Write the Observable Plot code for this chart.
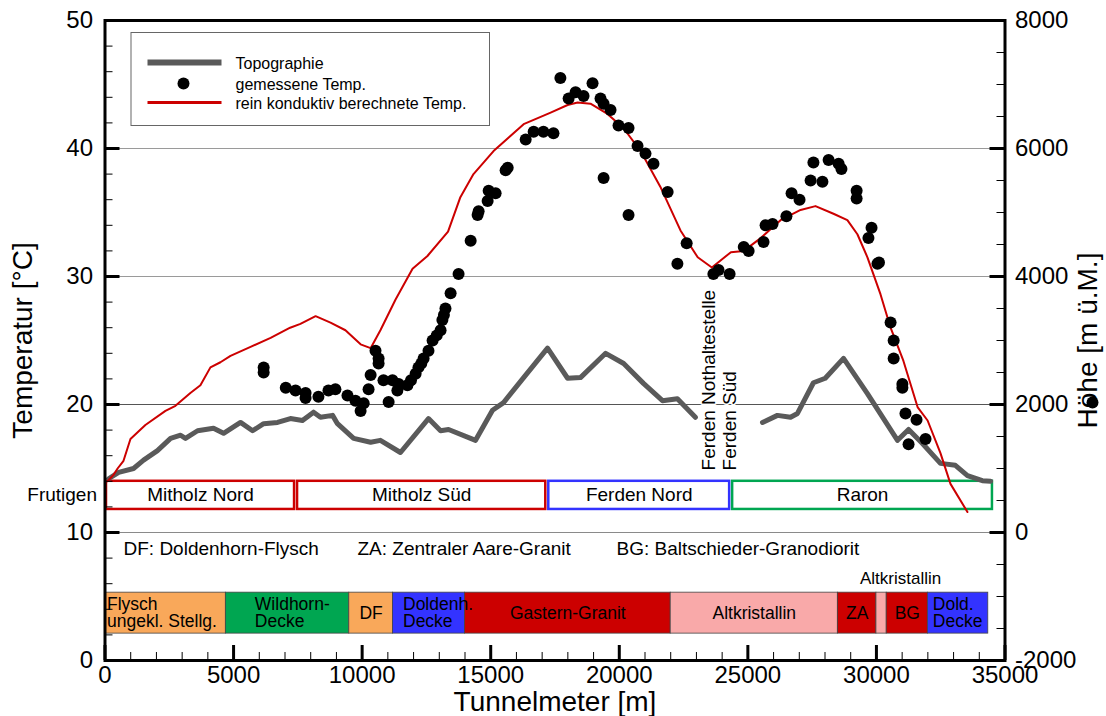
<!DOCTYPE html>
<html><head><meta charset="utf-8">
<script src="https://cdn.jsdelivr.net/npm/d3@7"></script>
<script src="https://cdn.jsdelivr.net/npm/@observablehq/plot@0.6"></script>
<style>body{margin:0;background:#fff;}</style>
</head><body><div id="chart"></div>
<script>
// ---------- data ----------
// rein konduktiv berechnete Temperatur (Tunnelmeter, °C)
const calcM = [100, 330, 490, 720, 990, 1570, 2350, 2740, 3320, 3710, 4100, 4490, 4880, 5660, 6440, 7200, 7600, 8190, 8770, 9350, 9940, 10330, 10710, 11300, 11960, 12540, 13340, 13820, 14330, 15110, 16280, 17330, 17990, 18380, 18880, 19540, 20160, 20830, 21600, 22380, 23050, 23600, 24340, 24840, 25500, 26270, 27050, 27630, 28330, 28870, 29260, 29650, 30160, 30550, 31050, 31600, 31990, 32490, 32880, 33540];
const calcT = [14.0, 14.5, 15.0, 15.6, 17.3, 18.4, 19.5, 19.9, 20.9, 21.5, 22.9, 23.3, 23.8, 24.5, 25.2, 26.0, 26.3, 26.9, 26.4, 25.8, 24.7, 24.4, 25.8, 28.2, 30.6, 31.6, 33.5, 36.2, 38.0, 39.8, 41.9, 42.8, 43.4, 43.6, 43.5, 42.7, 41.6, 39.8, 37.0, 33.6, 31.5, 30.7, 31.9, 32.0, 33.0, 34.4, 35.2, 35.5, 34.9, 34.4, 33.3, 31.5, 28.6, 26.0, 23.4, 19.8, 18.75, 16.2, 13.8, 11.6];

// Topographie (Tunnelmeter, m ü.M.); null = Lücke
const topoM = [140, 530, 1110, 1500, 2040, 2550, 2940, 3130, 3600, 4220, 4610, 5270, 5740, 6170, 6710, 7210, 7680, 8110, 8380, 8850, 9040, 9670, 10330, 10710, 11490, 12580, 13050, 13360, 14410, 15070, 15500, 16280, 17210, 17990, 18490, 19470, 20170, 20940, 21680, 22260, 22960, 24000, 25570, 26150, 26660, 26930, 27550, 28010, 28720, 29650, 30820, 31250, 31790, 32490, 33070, 33540, 34120, 34440];
const topoH = [840, 940, 1000, 1130, 1280, 1470, 1520, 1470, 1590, 1630, 1550, 1720, 1590, 1700, 1720, 1780, 1750, 1880, 1800, 1830, 1700, 1470, 1410, 1440, 1250, 1780, 1590, 1610, 1440, 1910, 2030, 2420, 2880, 2410, 2420, 2800, 2640, 2330, 2060, 2090, 1800, null, 1720, 1830, 1800, 1860, 2340, 2410, 2720, 2170, 1440, 1610, 1390, 1080, 1050, 890, 810, 800];

// gemessene Temperatur (Tunnelmeter, °C)
const measM = [6170, 6170, 7030, 7410, 7800, 7800, 8300, 8690, 8960, 9430, 9740, 9940, 10060, 10250, 10330, 10520, 10640, 10640, 10830, 11030, 11180, 11370, 11420, 11760, 11900, 12080, 12190, 12300, 12390, 12580, 12740, 12900, 13050, 13120, 13180, 13240, 13440, 13750, 14220, 14490, 14530, 14880, 14920, 15190, 15580, 15660, 16360, 16670, 17050, 17440, 17710, 18030, 18300, 18610, 18960, 19270, 19390, 19660, 19390, 19970, 20360, 20360, 20710, 21020, 21330, 21880, 22620, 22260, 23660, 23860, 24290, 24840, 25030, 25610, 25690, 25960, 26500, 26700, 27010, 27440, 27550, 27900, 28140, 28530, 28640, 29230, 29230, 29810, 29690, 30040, 30100, 30550, 30670, 30670, 31010, 31010, 31130, 31250, 31560, 31910];
const measT = [22.9, 22.5, 21.3, 21.1, 20.9, 20.5, 20.6, 21.1, 21.2, 20.7, 20.3, 19.5, 20.1, 21.2, 22.3, 24.2, 23.6, 23.2, 21.9, 20.2, 21.9, 21.1, 21.6, 21.5, 21.9, 22.4, 22.9, 23.2, 23.6, 24.2, 25.0, 25.4, 25.8, 26.6, 27.0, 27.5, 28.7, 30.2, 32.8, 34.8, 35.1, 35.9, 36.7, 36.5, 38.3, 38.5, 40.7, 41.3, 41.3, 41.2, 45.5, 43.9, 44.4, 44.1, 45.1, 43.9, 43.5, 43.0, 37.7, 41.8, 41.6, 34.8, 40.2, 39.6, 38.8, 36.6, 32.6, 31.0, 30.2, 30.5, 30.2, 32.3, 32.0, 32.7, 34.0, 34.1, 34.7, 36.5, 36.0, 37.5, 38.9, 37.4, 39.1, 38.8, 38.4, 36.7, 36.1, 33.8, 33.0, 31.0, 31.1, 26.4, 25.0, 23.6, 21.6, 21.3, 19.3, 16.9, 18.8, 17.3];

// Abschnitte (Baulose)
const stationNames = ["Mitholz Nord", "Mitholz Süd", "Ferden Nord", "Raron"];
const stationFrom = [0, 7430, 17200, 24350];
const stationTo = [7430, 17200, 24350, 34570];
const stationColors = ["#CC0000", "#CC0000", "#3333FF", "#00A651"];

// Geologie
const geoNames = ["Flysch\nungekl. Stellg.", "Wildhorn-\nDecke", "DF", "Doldenh.\nDecke", "Gastern-Granit", "Altkristallin", "ZA", "", "BG", "Dold.\nDecke"];
const geoFrom = [0, 4700, 9500, 11200, 14000, 22000, 28500, 30000, 30400, 32000];
const geoTo = [4700, 9500, 11200, 14000, 22000, 28500, 30000, 30400, 32000, 34350];
const geoColors = ["#F9A85A", "#00A651", "#F9A85A", "#3333FF", "#CC0000", "#F9A9A9", "#CC0000", "#F9A9A9", "#CC0000", "#3333FF"];
const geoAnchor = ["start", "start", "middle", "start", "middle", "middle", "middle", "middle", "middle", "start"];
const geoDx = [2, 29, 0, 10, 0, 0, 0, 0, 0, 5];

const abbrevTexts = ["DF: Doldenhorn-Flysch", "ZA: Zentraler Aare-Granit", "BG: Baltschieder-Granodiorit"];
const abbrevM = [720, 9820, 19890];

const siteTexts = ["Ferden Nothaltestelle", "Ferden Süd"];
const siteM = [23470, 24320];

// Achsen
const xMajor = [0, 5000, 10000, 15000, 20000, 25000, 30000, 35000];
const xMinor = d3.range(0, 35001, 1000);
const tMajor = [0, 10, 20, 30, 40, 50];
const tMinor = d3.range(0, 50.1, 2);
const hMajor = [-2000, 0, 2000, 4000, 6000, 8000];
const hMinor = d3.range(-2000, 8001, 500);
const legendLabels = ["Topographie", "gemessene Temp.", "rein konduktiv berechnete Temp."];

// ---------- build ----------
const W = 1106, H = 716;
const mL = 104.5, mR = 101.5, mT = 20, mB = 56;
const plotW = W - mL - mR, plotH = H - mT - mB;
const toT = h => (h + 2000) / 200;
const toH = t => t * 200 - 2000;

const calc = calcM.map((m, i) => ({m, t: calcT[i]}));
const topo = topoM.map((m, i) => ({m, h: topoH[i]}));
const meas = measM.map((m, i) => ({m, t: measT[i]}));
const stations = stationNames.map((name, i) => ({name, x1: stationFrom[i], x2: stationTo[i], color: stationColors[i]}));
const geo = geoNames.map((name, i) => ({name, x1: geoFrom[i], x2: geoTo[i], color: geoColors[i], anchor: geoAnchor[i], dx: geoDx[i]}));

const FS = 19;
const font = "'Liberation Sans', Arial, Helvetica, sans-serif";

const plot = Plot.plot({
  width: W, height: H,
  marginLeft: mL, marginRight: mR, marginTop: mT, marginBottom: mB,
  x: {domain: [0, 35000]},
  y: {domain: [0, 50]},
  color: {type: "identity"},
  style: {fontFamily: font, color: "#000", background: "#fff", overflow: "visible"},
  marks: [
    // Gitterlinien
    Plot.ruleY([40, 30], {stroke: "#9a9a9a", strokeWidth: 1}),
    Plot.ruleY([20], {stroke: "#555", strokeWidth: 1}),
    Plot.ruleY([10], {stroke: "#8a8a8a", strokeWidth: 1}),
    // Geologie
    Plot.rect(geo, {x1: "x1", x2: "x2", y1: 2.1, y2: 5.3, fill: "color", stroke: "#444", strokeWidth: 0.8}),
    ...geo.map(g => Plot.text([g], {x: d => g.anchor === "start" ? d.x1 : (d.x1 + d.x2) / 2, y: 3.7, text: "name", textAnchor: g.anchor, dx: g.dx, fontSize: 17.5, lineHeight: 1.0, fill: "#000"})),
    Plot.text(["Altkristallin"], {x: () => (geoFrom[7] + geoTo[7]) / 2, y: 6.4, text: d => d, dx: 19, fontSize: 17}),
    Plot.text(abbrevTexts, {x: (d, i) => abbrevM[i], y: 8.75, text: d => d, textAnchor: "start", fontSize: FS}),
    // Baulose
    Plot.rect(stations, {x1: "x1", x2: "x2", y1: 11.8, y2: 14.0, fill: "#fff", stroke: "color", strokeWidth: 2.5, insetLeft: 1.5, insetRight: 1.5}),
    Plot.text(stations, {x: d => (d.x1 + d.x2) / 2, y: 12.95, text: "name", fontSize: FS}),
    Plot.text(["Frutigen"], {frameAnchor: "left", y: () => 12.95, text: d => d, textAnchor: "end", dx: -8, fontSize: FS}),
    // Daten
    Plot.line(topo, {x: "m", y: d => d.h == null ? NaN : toT(d.h), stroke: "#5a5a5a", strokeWidth: 5, strokeLinejoin: "round"}),
    Plot.line(calc, {x: "m", y: "t", stroke: "#CC0000", strokeWidth: 2}),
    Plot.dot(meas, {x: "m", y: "t", r: 6, fill: "#000", stroke: null}),
    Plot.text(siteTexts, {x: (d, i) => siteM[i], y: 14.85, text: d => d, rotate: -90, textAnchor: "start", fontSize: FS, fill: "#000", stroke: "#fff", strokeWidth: 3, paintOrder: "stroke"}),
    // Legende
    Plot.frame({insetLeft: 26, insetTop: 12, insetRight: plotW - 384.5, insetBottom: plotH - 105, fill: "#fff", stroke: "#666", strokeWidth: 1}),
    Plot.frame({insetLeft: 42.5, insetRight: plotW - 116.5, insetTop: 39, insetBottom: plotH - 45, fill: "#5a5a5a", stroke: null}),
    Plot.frame({insetLeft: 42.5, insetRight: plotW - 116.5, insetTop: 80.5, insetBottom: plotH - 83.5, fill: "#CC0000", stroke: null}),
    Plot.dot([0], {frameAnchor: "top-left", dx: 78.5, dy: 63, r: 6, fill: "#000"}),
    Plot.text([legendLabels[0]], {frameAnchor: "top-left", dx: 130.5, dy: 43, text: d => d, textAnchor: "start", lineAnchor: "middle", fontSize: 16}),
    Plot.text([legendLabels[1]], {frameAnchor: "top-left", dx: 130.5, dy: 64, text: d => d, textAnchor: "start", lineAnchor: "middle", fontSize: 16}),
    Plot.text([legendLabels[2]], {frameAnchor: "top-left", dx: 130.5, dy: 83, text: d => d, textAnchor: "start", lineAnchor: "middle", fontSize: 16}),
    // Ticks (nach innen)
    Plot.tickX(xMinor, {x: d => d, insetTop: plotH - 8, stroke: "#000", strokeWidth: 1}),
    Plot.tickX(xMajor, {x: d => d, insetTop: plotH - 15, stroke: "#000", strokeWidth: 3}),
    Plot.tickY(tMinor, {y: d => d, insetRight: plotW - 8, stroke: "#000", strokeWidth: 1}),
    Plot.tickY(tMajor, {y: d => d, insetRight: plotW - 15, stroke: "#000", strokeWidth: 3}),
    Plot.tickY(hMinor, {y: d => toT(d), insetLeft: plotW - 8, stroke: "#000", strokeWidth: 1}),
    Plot.tickY(hMajor, {y: d => toT(d), insetLeft: plotW - 15, stroke: "#000", strokeWidth: 3}),
    // Achsenbeschriftung
    Plot.axisX({ticks: xMajor, tickSize: 0, tickPadding: 5, tickFormat: d => `${d}`, fontSize: 24, label: null}),
    Plot.axisY({anchor: "left", ticks: tMajor, tickSize: 0, tickPadding: 12, tickFormat: d => `${d}`, fontSize: 24, label: null}),
    Plot.axisY({anchor: "right", ticks: hMajor.map(toT), tickSize: 0, tickPadding: 10, tickFormat: t => `${Math.round(toH(t))}`, fontSize: 24, label: null}),
    Plot.text(["Temperatur [°C]"], {frameAnchor: "left", dx: -82, rotate: -90, text: d => d, textAnchor: "middle", lineAnchor: "middle", fontSize: 28}),
    Plot.text(["Höhe [m ü.M.]"], {frameAnchor: "right", dx: 83, rotate: -90, text: d => d, textAnchor: "middle", lineAnchor: "middle", fontSize: 28}),
    Plot.dot([0], {frameAnchor: "right", dx: 87.5, dy: 62, r: 6, fill: "#000"}),
    Plot.text(["Tunnelmeter [m]"], {frameAnchor: "bottom", dy: 42, text: d => d, textAnchor: "middle", lineAnchor: "middle", fontSize: 28}),
    Plot.frame({stroke: "#000", strokeWidth: 3})
  ]
});
document.getElementById("chart").append(plot);
</script>
</body></html>
